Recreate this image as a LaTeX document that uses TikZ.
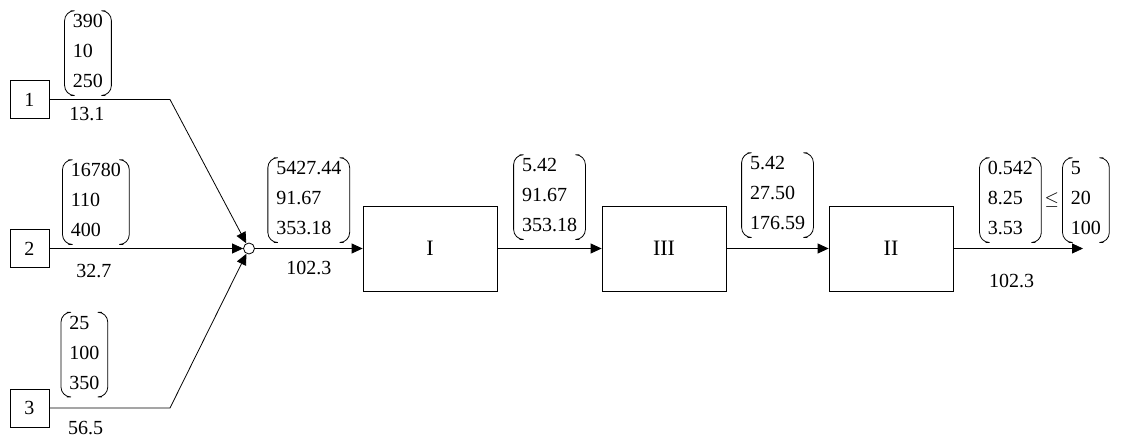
\documentclass[tikz,border=0pt]{standalone}
\usepackage{fontspec}
\setmainfont{Liberation Serif}
\usetikzlibrary{arrows.meta,positioning}

\newcommand{\colvec}[3]{\begin{tabular}{@{}l@{}}#1\\[3pt]#2\\[3pt]#3\end{tabular}}

\begin{document}
\begin{tikzpicture} [
        x=0.5pt, y=-0.5pt, thin,
        >={Triangle[length=5.5pt,width=5pt]},
        src/.style={draw, minimum width=19.5pt, minimum height=19pt, inner sep=0pt},
        unit/.style={draw, minimum width=62pt, minimum height=42.5pt, font=\fontsize{11}{13}\selectfont},
        junction/.style={circle, draw, fill=white, minimum size=5.5pt, inner sep=0pt},
        vec/.style={inner xsep=4pt, inner ysep=0pt},
        paren/.style={rounded corners=5pt},
        flow/.style={inner sep=0pt}
    ]
    \useasboundingbox (0,0) rectangle (1143,437);

    \node[src]                      (1)    at (29.5,99.5)  {1};
    \node[src]                      (2)    at (29.5,248.5) {2};
    \node[src]                      (3)    at (29.5,408)   {3};
    \node[junction]                 (mix)  at (249,248.5)  {};
    \node[unit, minimum width=67pt] (I)    at (430,248.5)  {I};
    \node[unit]                     (III)  at (664,248.5)  {III};
    \node[unit]                     (II)   at (891,248.5)  {II};
    \coordinate                     (b1)   at (170,99.5);
    \coordinate                     (b3)   at (170,408);
    \coordinate                     (out)  at (1083,248.5);

    % sources
    \draw[->] (1) -- node[vec, pos=.32, above=2pt] (v1) {\colvec{390}{10}{250}}
                     node[flow, pos=.31, below=3.6pt] {13.1} (b1) -- (mix);
    \draw[->] (2) -- node[vec, pos=.24, above=2pt] (v2) {\colvec{16780}{110}{400}}
                     node[flow, pos=.23, below=7.6pt] {32.7} (mix);
    \draw[->] (3) -- node[vec, pos=.29, above=5.5pt] (v3) {\colvec{25}{100}{350}}
                     node[flow, pos=.3, below=6.6pt] {56.5} (b3) -- (mix);

    % chain
    \draw[->] (mix) -- node[vec, above=3pt] (v4) {\colvec{5427.44}{91.67}{353.18}}
                       node[flow, below=6pt] {102.3} (I);
    \draw[->] (I)   -- node[vec, above=4.5pt] (v5) {\colvec{5.42}{91.67}{353.18}} (III);
    \draw[->] (III) -- node[vec, above=5.5pt] (v6) {\colvec{5.42}{27.50}{176.59}} (II);
    \draw[->] (II)  -- node[vec, pos=.44, above=3pt] (v7) {\colvec{0.542}{8.25}{3.53}}
                       node[flow, pos=.45, below=12.6pt] {102.3} (out);
    \node[inner sep=0pt, right=1.5pt of v7, font=\small] (le) {$\leq$};
    \node[vec, right=1.5pt of le]                        (v8) {\colvec{5}{20}{100}};

    % brackets
    \foreach \v in {v1,v2,v3,v4,v5,v6,v7,v8} {
        \draw[paren] ([xshift=3pt]\v.north west) -- (\v.north west) -- (\v.south west) -- ([xshift=3pt]\v.south west);
        \draw[paren] ([xshift=-3pt]\v.north east) -- (\v.north east) -- (\v.south east) -- ([xshift=-3pt]\v.south east);
    }
\end{tikzpicture}
\end{document}
